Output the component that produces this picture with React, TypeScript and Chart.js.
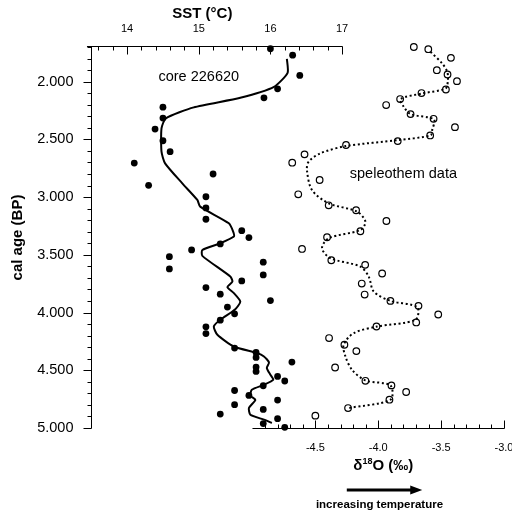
import React, { useEffect, useRef } from 'react';
import { Chart, registerables } from 'chart.js';

Chart.register(...registerables);

const FONT = '"Liberation Sans", Arial, Helvetica, sans-serif';

// ---- core 226620: SST measurements (°C) vs cal age (BP)
const sstAge = [
  1715, 1771, 1946, 2062, 2140, 2221, 2316, 2411, 2512, 2607, 2705, 2800, 2898, 2997,
  3094, 3192, 3291, 3351, 3406, 3458, 3516, 3564, 3622, 3674, 3726, 3784, 3841, 3896,
  3953, 4011, 4066, 4124, 4182, 4308, 4346, 4389, 4429, 4472, 4510, 4553, 4593, 4634,
  4675, 4718, 4758, 4798, 4839, 4879, 4919, 4962, 4994,
];
const sstValue = [
  16.0, 16.31, 16.41, 16.1, 15.91, 14.5, 14.5, 14.39, 14.5, 14.6, 14.1, 15.2, 14.3, 15.1,
  15.1, 15.1, 15.6, 15.7, 15.3, 14.9, 14.59, 15.9, 14.59, 15.9, 15.6, 15.1, 15.3, 16.0,
  15.4, 15.5, 15.3, 15.1, 15.1, 15.5, 15.8, 15.8, 16.3, 15.8, 15.8, 16.1, 16.2, 15.9,
  15.5, 15.7, 16.1, 15.5, 15.9, 15.3, 16.1, 15.9, 16.2,
];

// ---- core 226620: smoothed SST curve
const sstLineAge = [
  1803, 1924, 2045, 2140, 2223, 2318, 2405, 2607, 2708, 2881, 3025, 3083, 3227, 3299,
  3342, 3400, 3458, 3509, 3688, 3732, 3780, 3832, 3905, 3971, 4063, 4121, 4193, 4294,
  4351, 4380, 4432, 4481, 4539, 4582, 4626, 4669, 4721, 4756, 4827, 4885, 4928, 4957,
];
const sstLineValue = [
  16.23, 16.24, 16.05, 15.58, 14.93, 14.54, 14.48, 14.48, 14.53, 14.77, 14.98, 15.02, 15.42, 15.48,
  15.49, 15.3, 15.05, 15.05, 15.44, 15.47, 15.4, 15.49, 15.58, 15.51, 15.3, 15.21, 15.26, 15.49,
  15.81, 15.91, 15.98, 15.95, 16.0, 16.04, 15.91, 15.74, 15.72, 15.79, 15.7, 15.72, 15.91, 16.02,
];

// ---- speleothem data: δ18O (‰) vs cal age (BP)
const speleoAge = [
  1700, 1719, 1794, 1901, 1938, 1996, 2068, 2099, 2151, 2203, 2281, 2322, 2394, 2466,
  2515, 2549, 2630, 2702, 2852, 2976, 3071, 3114, 3207, 3296, 3348, 3449, 3547, 3587,
  3662, 3749, 3844, 3899, 3942, 4017, 4086, 4121, 4221, 4279, 4334, 4476, 4591, 4631,
  4688, 4755, 4827, 4893,
];
const speleoValue = [
  -3.717, -3.602, -3.422, -3.534, -3.449, -3.374, -3.462, -3.656, -3.826, -3.937, -3.743, -3.56, -3.39, -3.587,
  -3.845, -4.256, -4.586, -4.684, -4.466, -4.636, -4.394, -4.176, -3.935, -4.142, -4.407, -4.606, -4.373, -4.104,
  -3.969, -4.131, -4.108, -3.903, -3.68, -3.523, -3.698, -4.014, -4.391, -4.269, -4.174, -4.343, -4.102, -3.895,
  -3.778, -3.911, -4.24, -4.5,
];

// ---- speleothem data: smoothed curve
const speleoLineAge = [
  1742, 1843, 1915, 1987, 2059, 2102, 2151, 2218, 2281, 2327, 2420, 2465, 2506, 2558,
  2621, 2694, 2766, 2939, 3054, 3126, 3213, 3285, 3356, 3443, 3529, 3602, 3688, 3818,
  3899, 3953, 4063, 4121, 4178, 4279, 4380, 4496, 4588, 4631, 4755, 4827,
];
const speleoLineValue = [
  -3.584, -3.491, -3.451, -3.446, -3.465, -3.65, -3.823, -3.797, -3.743, -3.558, -3.571, -3.584, -3.837, -4.256,
  -4.461, -4.554, -4.567, -4.527, -4.394, -4.168, -4.102, -4.142, -4.394, -4.447, -4.381, -4.142, -4.076, -4.036,
  -3.903, -3.69, -3.704, -4.009, -4.195, -4.275, -4.261, -4.208, -4.102, -3.903, -3.903, -4.235,
];

// ---- axes
const ageMin = 1700;
const ageMax = 5000;
const ageTickLabels = [2000, 2500, 3000, 3500, 4000, 4500, 5000];
const sstTickLabels = [14, 15, 16, 17];
const d18OTickLabels = [-4.5, -4.0, -3.5, -3.0];

const near = (a: number, b: number) => Math.abs(a - b) < 1e-9;

const decoPlugin = {
  id: 'deco',
  afterDraw(chart: any) {
    const ctx: CanvasRenderingContext2D = chart.ctx;
    const { left, top, bottom } = chart.chartArea;
    const y = chart.scales.y;
    const xt = chart.scales.xTop;
    const xb = chart.scales.xBot;
    const seg = (x1: number, y1: number, x2: number, y2: number) => {
      ctx.beginPath();
      ctx.moveTo(x1, y1);
      ctx.lineTo(x2, y2);
      ctx.stroke();
    };
    ctx.save();
    ctx.strokeStyle = '#000';
    ctx.lineWidth = 1;

    // left axis
    const lx = left - 0.5;
    seg(lx, top - 0.5, lx, bottom + 0.5);
    y.ticks.forEach((t: any) => {
      const py = Math.round(y.getPixelForValue(t.value)) + 0.5;
      const len = t.value % 500 === 0 ? 8 : 4;
      seg(lx - len, py, lx, py);
    });

    // top axis (SST)
    const ty = top - 0.5;
    seg(xt.getPixelForValue(13.44), ty, xt.getPixelForValue(17) + 0.5, ty);
    xt.ticks.forEach((t: any) => {
      const px = Math.round(xt.getPixelForValue(t.value)) + 0.5;
      const len = Number.isInteger(t.value) ? 8 : 4;
      seg(px, ty, px, ty + len);
    });

    // bottom axis (δ18O)
    const by = bottom + 0.5;
    seg(xb.getPixelForValue(-5), by, xb.getPixelForValue(-3) + 0.5, by);
    xb.ticks.forEach((t: any) => {
      if (near(t.value, -5)) return;
      const px = Math.round(xb.getPixelForValue(t.value)) + 0.5;
      const major = near(t.value * 2, Math.round(t.value * 2));
      const len = major ? 8 : 4;
      seg(px, by, px, by - len);
    });

    // titles and annotations
    ctx.fillStyle = '#000';
    ctx.textBaseline = 'middle';
    ctx.textAlign = 'center';
    ctx.font = `bold 15px ${FONT}`;
    ctx.fillText('SST (°C)', xt.getPixelForValue(15.05), 14);

    ctx.save();
    ctx.translate(18, (top + bottom) / 2);
    ctx.rotate(-Math.PI / 2);
    ctx.fillText('cal age (BP)', 0, 0);
    ctx.restore();

    ctx.font = `14.5px ${FONT}`;
    ctx.fillText('core 226620', xt.getPixelForValue(15.0), y.getPixelForValue(1960));
    ctx.fillText('speleothem data', xb.getPixelForValue(-3.8), y.getPixelForValue(2800));

    // δ18O (‰) with superscript
    const parts = [
      { t: 'δ', f: `bold 15px ${FONT}`, dy: 0 },
      { t: '18', f: `bold 9px ${FONT}`, dy: -4 },
      { t: 'O (‰)', f: `bold 15px ${FONT}`, dy: 0 },
    ];
    let total = 0;
    parts.forEach((p) => {
      ctx.font = p.f;
      total += ctx.measureText(p.t).width;
    });
    let cx = xb.getPixelForValue(-3.96) - total / 2;
    ctx.textAlign = 'left';
    parts.forEach((p) => {
      ctx.font = p.f;
      ctx.fillText(p.t, cx, 466 + p.dy);
      cx += ctx.measureText(p.t).width;
    });

    // arrow
    const ax1 = xb.getPixelForValue(-4.25);
    const ax2 = xb.getPixelForValue(-3.65);
    const ay = 490;
    ctx.lineWidth = 3;
    seg(ax1, ay, ax2 - 10, ay);
    ctx.beginPath();
    ctx.moveTo(ax2, ay);
    ctx.lineTo(ax2 - 12, ay - 4.5);
    ctx.lineTo(ax2 - 12, ay + 4.5);
    ctx.closePath();
    ctx.fill();

    ctx.textAlign = 'center';
    ctx.font = `bold 11.5px ${FONT}`;
    ctx.fillText('increasing temperature', xb.getPixelForValue(-3.99), 505);

    ctx.restore();
  },
};

export default function App() {
  const ref = useRef<HTMLCanvasElement>(null);

  useEffect(() => {
    const canvas = ref.current;
    if (!canvas) return;
    Chart.defaults.color = '#000';
    Chart.defaults.font.family = FONT;

    const chart = new Chart(canvas, {
      type: 'scatter',
      data: {
        datasets: [
          {
            label: 'SST',
            data: sstAge.map((a, i) => ({ x: sstValue[i], y: a })),
            xAxisID: 'xTop',
            yAxisID: 'y',
            pointRadius: 3.4,
            pointBackgroundColor: '#000',
            pointBorderColor: '#000',
            pointBorderWidth: 0,
            showLine: false,
            clip: false,
          },
          {
            label: 'speleothem',
            data: speleoAge.map((a, i) => ({ x: speleoValue[i], y: a })),
            xAxisID: 'xBot',
            yAxisID: 'y',
            pointRadius: 3.3,
            pointBackgroundColor: 'rgba(0,0,0,0)',
            pointBorderColor: '#000',
            pointBorderWidth: 1.2,
            showLine: false,
            clip: false,
          },
          {
            label: 'SST smoothed',
            data: sstLineAge.map((a, i) => ({ x: sstLineValue[i], y: a })),
            xAxisID: 'xTop',
            yAxisID: 'y',
            showLine: true,
            borderColor: '#000',
            borderWidth: 2,
            pointRadius: 0,
            tension: 0.2,
            fill: false,
          },
          {
            label: 'speleothem smoothed',
            data: speleoLineAge.map((a, i) => ({ x: speleoLineValue[i], y: a })),
            xAxisID: 'xBot',
            yAxisID: 'y',
            showLine: true,
            borderColor: '#000',
            borderWidth: 2,
            borderDash: [2, 2.6],
            pointRadius: 0,
            tension: 0.3,
            fill: false,
          },
        ],
      } as any,
      options: {
        responsive: false,
        animation: false,
        events: [],
        layout: { padding: { left: 0, right: 8, top: 0, bottom: 0 } },
        plugins: { legend: { display: false }, tooltip: { enabled: false } },
        scales: {
          y: {
            type: 'linear',
            position: 'left',
            reverse: true,
            min: ageMin,
            max: ageMax,
            grid: { display: false, drawTicks: false },
            border: { display: false },
            afterBuildTicks: (s: any) => {
              const t = [];
              for (let v = ageMin; v <= ageMax; v += 100) t.push({ value: v });
              s.ticks = t;
            },
            afterFit: (s: any) => {
              s.width = 92;
              s.paddingTop = 0;
              s.paddingBottom = 0;
            },
            ticks: {
              autoSkip: false,
              padding: 18.5,
              font: { size: 14.5, family: FONT },
              color: '#000',
              callback: (v: any) => (ageTickLabels.includes(v) ? (v / 1000).toFixed(3) : ''),
            },
          },
          xTop: {
            type: 'linear',
            position: 'top',
            min: 13.51,
            max: 19.26,
            grid: { display: false, drawTicks: false },
            border: { display: false },
            afterBuildTicks: (s: any) => {
              const t = [];
              for (let i = 68; i <= 85; i++) t.push({ value: i / 5 });
              s.ticks = t;
            },
            afterFit: (s: any) => {
              s.height = 47;
              s.paddingLeft = 0;
              s.paddingRight = 0;
            },
            ticks: {
              autoSkip: false,
              maxRotation: 0,
              minRotation: 0,
              padding: 11,
              font: { size: 11, family: FONT },
              color: '#000',
              callback: (v: any) => (sstTickLabels.includes(v) ? String(v) : ''),
            },
          },
          xBot: {
            type: 'linear',
            position: 'bottom',
            min: -6.276,
            max: -3.0,
            grid: { display: false, drawTicks: false },
            border: { display: false },
            afterBuildTicks: (s: any) => {
              const t = [];
              for (let i = -50; i <= -30; i++) t.push({ value: i / 10 });
              s.ticks = t;
            },
            afterFit: (s: any) => {
              s.height = 84;
              s.paddingLeft = 0;
              s.paddingRight = 0;
            },
            ticks: {
              autoSkip: false,
              maxRotation: 0,
              minRotation: 0,
              padding: 13,
              font: { size: 11, family: FONT },
              color: '#000',
              callback: (v: any) => (d18OTickLabels.some((d) => near(d, v)) ? Number(v).toFixed(1) : ''),
            },
          },
        },
      } as any,
      plugins: [decoPlugin],
    });

    return () => chart.destroy();
  }, []);

  return (
    <div style={{ position: 'absolute', left: 0, top: 0, width: 512, height: 512, background: '#fff' }}>
      <canvas ref={ref} width={512} height={512} style={{ display: 'block', width: 512, height: 512 }} />
    </div>
  );
}
